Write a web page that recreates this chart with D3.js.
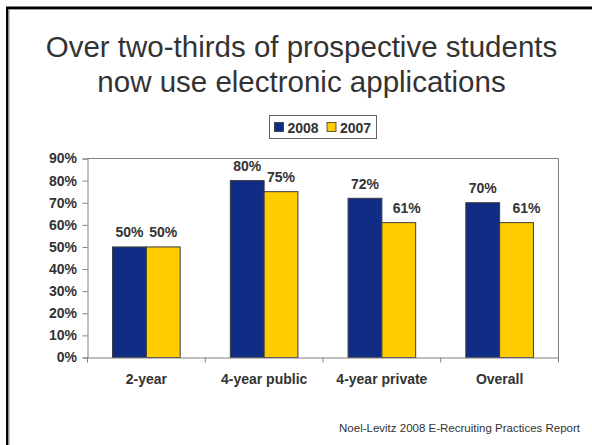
<!DOCTYPE html>
<html>
<head>
<meta charset="utf-8">
<script src="https://cdn.jsdelivr.net/npm/d3@7"></script>
<style>
  html, body { margin: 0; padding: 0; background: #fff; }
  svg { display: block; font-family: "Liberation Sans", Arial, sans-serif; }
</style>
</head>
<body>
<svg id="chart" width="592" height="445"></svg>
<script>
const titleLines = ["Over two-thirds of prospective students", "now use electronic applications"];
const categories = ["2-year", "4-year public", "4-year private", "Overall"];
const seriesNames = ["2008", "2007"];
const values2008 = [0.50, 0.80, 0.72, 0.70];
const values2007 = [0.50, 0.75, 0.61, 0.61];
const yTicks = [0, 0.1, 0.2, 0.3, 0.4, 0.5, 0.6, 0.7, 0.8, 0.9];
const sourceNote = "Noel-Levitz 2008 E-Recruiting Practices Report";

const colors = { "2008": "#102C84", "2007": "#FFCC00" };
const textColor = "#333333";
const FONT = "'Liberation Sans', Arial, sans-serif";
// small horizontal nudges of value labels (label placement style)
const labelNudge = { "4-year private|2007": 8, "Overall|2007": 10 };

const svg = d3.select("#chart");

// slide frame
svg.append("path").attr("d", "M7.25,445 V7.75 H592").attr("fill", "none").attr("stroke", "#000").attr("stroke-width", 2.5);
svg.append("path").attr("d", "M9,445 V9.5 H592").attr("fill", "none").attr("stroke", "#999").attr("stroke-width", 1);

// title
svg.append("g").selectAll("text").data(titleLines).join("text")
  .attr("x", 301.5).attr("y", (d, i) => 57 + i * 34.5)
  .attr("text-anchor", "middle")
  .attr("font-size", 29.5).attr("fill", textColor)
  .text(d => d);

// plot geometry
const pLeft = 87.5, pRight = 558.5, pTop = 158.5, pBottom = 357.5;

const x = d3.scaleBand().domain(categories).range([pLeft, pRight]).paddingInner(0).paddingOuter(0);
const groupWidth = x.bandwidth() * 0.574;
const x1 = d3.scaleBand().domain(seriesNames).range([0, groupWidth]);
const y = d3.scaleLinear().domain([0, 0.9]).range([pBottom, pTop]);

// plot frame (top & right)
svg.append("path").attr("d", `M${pLeft},${pTop} H${pRight} V${pBottom}`)
  .attr("fill", "none").attr("stroke", "#808080").attr("stroke-width", 1);

const rows = categories.map((c, i) => ({ cat: c, vals: [
  { cat: c, s: "2008", v: values2008[i] }, { cat: c, s: "2007", v: values2007[i] }] }));

const groups = svg.append("g").selectAll("g").data(rows).join("g")
  .attr("transform", d => `translate(${x(d.cat) + (x.bandwidth() - groupWidth) / 2},0)`);

groups.selectAll("rect").data(d => d.vals).join("rect")
  .attr("x", d => x1(d.s))
  .attr("y", d => y(d.v))
  .attr("width", x1.bandwidth())
  .attr("height", d => pBottom - y(d.v))
  .attr("fill", d => colors[d.s])
  .attr("stroke", "#3a3a3a").attr("stroke-width", 1);

groups.selectAll("text").data(d => d.vals).join("text")
  .attr("x", d => x1(d.s) + x1.bandwidth() / 2 + (labelNudge[d.cat + "|" + d.s] || 0))
  .attr("y", d => y(d.v) - 9.5)
  .attr("text-anchor", "middle")
  .attr("font-size", 14).attr("font-weight", "bold").attr("fill", textColor)
  .text(d => d3.format(".0%")(d.v));

// y axis
const yAxis = svg.append("g").attr("transform", `translate(${pLeft},0)`)
  .call(d3.axisLeft(y).tickValues(yTicks).tickFormat(d3.format(".0%")).tickSize(5).tickPadding(5.5));
yAxis.select(".domain").attr("stroke", "#808080");
yAxis.selectAll(".tick line").attr("stroke", "#808080");
yAxis.selectAll("text").attr("font-size", 14).attr("font-weight", "bold").attr("fill", textColor)
  .attr("font-family", FONT);

// x axis
const xAxis = svg.append("g").attr("transform", `translate(0,${pBottom})`)
  .call(d3.axisBottom(x).tickSize(0).tickPadding(16.5));
xAxis.select(".domain").attr("stroke", "#808080");
xAxis.selectAll("text").attr("font-size", 14).attr("font-weight", "bold").attr("fill", textColor)
  .attr("font-family", FONT);
const boundaries = categories.map(c => x(c)).concat([pRight]);
svg.append("g").selectAll("line").data(boundaries).join("line")
  .attr("x1", d => d).attr("x2", d => d)
  .attr("y1", pBottom).attr("y2", pBottom + 5)
  .attr("stroke", "#808080");

// legend
const legend = svg.append("g").attr("transform", "translate(269.5,115.5)");
legend.append("rect").attr("width", 107).attr("height", 23)
  .attr("fill", "#fff").attr("stroke", "#666");
const li = legend.selectAll("g").data(seriesNames).join("g")
  .attr("transform", (d, i) => `translate(${5 + i * 52.5},0)`);
li.append("rect").attr("x", 0).attr("y", 7).attr("width", 9).attr("height", 9)
  .attr("fill", d => colors[d]).attr("stroke", "#333").attr("stroke-width", 0.8);
li.append("text").attr("x", 13).attr("y", 17)
  .attr("font-size", 14).attr("font-weight", "bold").attr("fill", textColor)
  .text(d => d);

// source
svg.append("text").attr("x", 580).attr("y", 431.5).attr("text-anchor", "end")
  .attr("font-size", 11.5).attr("fill", textColor).text(sourceNote);
</script>
</body>
</html>
